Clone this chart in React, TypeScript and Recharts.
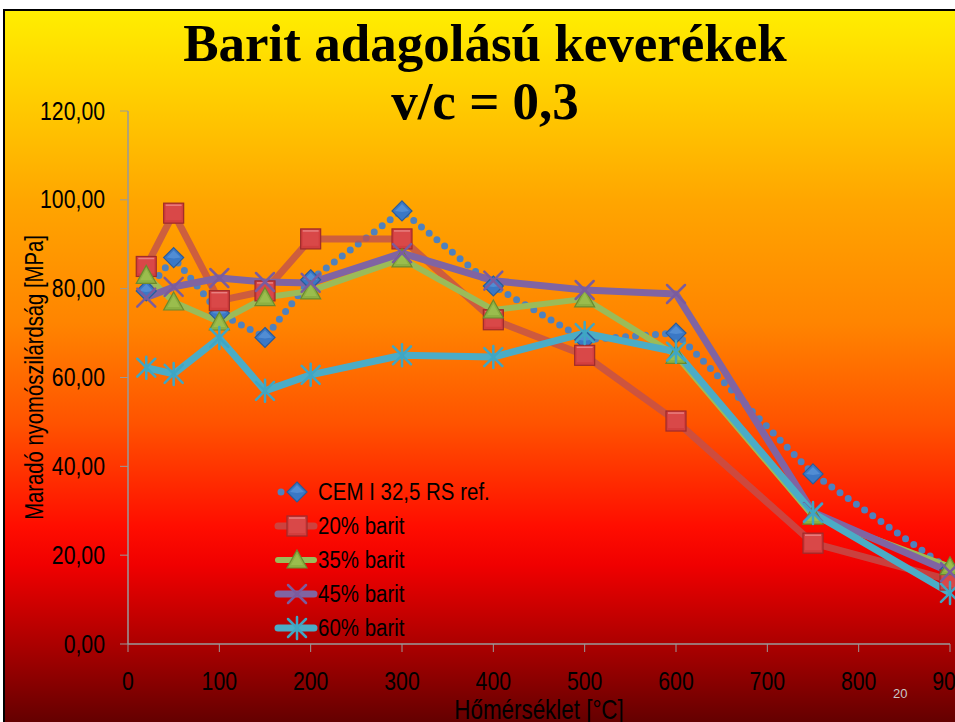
import React from 'react';
import { LineChart, Line, XAxis, YAxis, Label } from 'recharts';

const temps = [20, 50, 100, 150, 200, 300, 400, 500, 600, 750, 900];
const cemRef = [79.5, 87, 74.5, 69, 82, 97.5, 80.6, 68.5, 70, 38.3, 16.7];
const barit20 = [85, 97, 77.3, 79.5, 91.2, 91.2, 73, 65, 50.2, 22.7, 14.4];
const barit35 = [83, 77, 72.5, 78, 79.5, 86.7, 75.2, 77.7, 65, 28.8, 17.4];
const barit45 = [78, 80.4, 82.4, 81.5, 81.3, 88, 81.8, 79.7, 78.8, 29.7, 16.2];
const barit60 = [62.2, 60.8, 68.9, 57, 60.6, 65, 64.6, 70, 65.8, 29.5, 11.5];

const xTicks = [0, 100, 200, 300, 400, 500, 600, 700, 800, 900];
const yTicks = [0, 20, 40, 60, 80, 100, 120];

const seriesNames = ['CEM I 32,5 RS ref.', '20% barit', '35% barit', '45% barit', '60% barit'];
const titleLines = ['Barit adagolású keverékek', 'v/c = 0,3'];
const xTitle = 'Hőmérséklet [°C]';
const yTitle = 'Maradó nyomószilárdság [MPa]';

const data = temps.map((t, i) => ({
  t,
  cem: cemRef[i],
  b20: barit20[i],
  b35: barit35[i],
  b45: barit45[i],
  b60: barit60[i],
}));

const FONT = '"Liberation Sans", Arial, sans-serif';
const SQ = 0.85;

type Kind = 'diamond' | 'square' | 'triangle' | 'xmark' | 'star';

const series: { key: string; name: string; color: string; kind: Kind; width: number; opacity: number; dotted?: boolean }[] = [
  { key: 'cem', name: seriesNames[0], color: '#4F81BD', kind: 'diamond', width: 7, opacity: 1, dotted: true },
  { key: 'b20', name: seriesNames[1], color: '#C0504D', kind: 'square', width: 7, opacity: 0.8 },
  { key: 'b35', name: seriesNames[2], color: '#9BBB59', kind: 'triangle', width: 6, opacity: 1 },
  { key: 'b45', name: seriesNames[3], color: '#8064A2', kind: 'xmark', width: 7, opacity: 1 },
  { key: 'b60', name: seriesNames[4], color: '#4BACC6', kind: 'star', width: 7, opacity: 1 },
];

function Marker({ kind, cx, cy }: { kind: Kind; cx: number; cy: number }) {
  if (cx == null || cy == null || isNaN(cx) || isNaN(cy)) return <g />;
  const s = 10;
  switch (kind) {
    case 'diamond':
      return (
        <g>
          <polygon points={`${cx},${cy - s} ${cx + s},${cy} ${cx},${cy + s} ${cx - s},${cy}`} fill="#3A78C6" stroke="#2B5C99" strokeWidth={1.2} />
          <polygon points={`${cx},${cy - s + 3} ${cx + s - 3},${cy} ${cx},${cy + 1} ${cx - s + 3},${cy}`} fill="#5B95DA" opacity={0.7} />
        </g>
      );
    case 'square':
      return (
        <g>
          <rect x={cx - s} y={cy - s} width={2 * s} height={2 * s} fill="#D23E3E" stroke="#9E2B2B" strokeWidth={1.2} />
          <rect x={cx - s + 2} y={cy - s + 2} width={2 * s - 4} height={2 * s - 5} fill="#D94848" />
          <line x1={cx - s + 2} y1={cy - s + 2} x2={cx + s - 2} y2={cy - s + 2} stroke="#E98080" strokeWidth={1.5} />
        </g>
      );
    case 'triangle':
      return (
        <g>
          <polygon points={`${cx},${cy - s} ${cx + s},${cy + 8} ${cx - s},${cy + 8}`} fill="#8DB042" stroke="#6B8A2E" strokeWidth={1.2} />
          <polygon points={`${cx},${cy - s + 4} ${cx + s - 4},${cy + 5} ${cx - s + 4},${cy + 5}`} fill="#9DC050" opacity={0.8} />
        </g>
      );
    case 'xmark':
      return (
        <g stroke="#7A5C9E" strokeWidth={2.5} strokeLinecap="round">
          <line x1={cx - 9} y1={cy - 9} x2={cx + 9} y2={cy + 9} />
          <line x1={cx - 9} y1={cy + 9} x2={cx + 9} y2={cy - 9} />
        </g>
      );
    case 'star':
    default:
      return (
        <g stroke="#3FA6C4" strokeWidth={2.5} strokeLinecap="round">
          <line x1={cx - 9} y1={cy - 9} x2={cx + 9} y2={cy + 9} />
          <line x1={cx - 9} y1={cy + 9} x2={cx + 9} y2={cy - 9} />
          <line x1={cx} y1={cy - 11} x2={cx} y2={cy + 11} />
        </g>
      );
  }
}

function YTick(props: any) {
  const { x, y, payload, tickFormatter } = props;
  const label = tickFormatter ? tickFormatter(payload.value, payload.index) : String(payload.value);
  return (
    <text transform={`translate(${x},${y}) scale(${SQ},1)`} textAnchor="end" dominantBaseline="central" fontFamily={FONT} fontSize={25} fill="#000">
      {label}
    </text>
  );
}

function XTick(props: any) {
  const { x, y, payload } = props;
  return (
    <text transform={`translate(${x},${y}) scale(${SQ},1)`} textAnchor="middle" dy="0.71em" fontFamily={FONT} fontSize={25} fill="#000">
      {String(payload.value)}
    </text>
  );
}

function LegendBox() {
  return (
    <div style={{ position: 'absolute', left: 272, top: 475, fontFamily: FONT, fontSize: 23, color: '#000', lineHeight: '34px' }}>
      {series.map((s) => (
        <div key={s.key} style={{ display: 'flex', alignItems: 'center', height: 34 }}>
          <svg width={46} height={34} style={{ display: 'block', flex: 'none' }}>
            {s.dotted ? (
              <circle cx={9} cy={17} r={3.5} fill={s.color} />
            ) : (
              <line x1={6} y1={17} x2={42} y2={17} stroke={s.color} strokeWidth={s.width} strokeOpacity={s.opacity} strokeLinecap="round" />
            )}
            <Marker kind={s.kind} cx={25} cy={17} />
          </svg>
          <span style={{ whiteSpace: 'nowrap', display: 'inline-block', transform: 'scaleX(0.89)', transformOrigin: 'left center' }}>{s.name}</span>
        </div>
      ))}
    </div>
  );
}

export default function App() {
  return (
    <div style={{ position: 'fixed', left: 0, top: 0, width: 955, height: 722, overflow: 'hidden', background: '#fff' }}>
      <div
        style={{
          position: 'absolute',
          left: 3,
          top: 9,
          width: 960,
          height: 720,
          borderLeft: '2px solid #000',
          borderTop: '2px solid #000',
          background:
            'linear-gradient(to bottom, #FFEE00 0%, #FFCC00 12.5%, #FFA500 26.6%, #FF8400 43.5%, #FF5200 57.5%, #FF0D00 71.6%, #F00000 77%, #A80000 88.5%, #5C0000 100%)',
        }}
      />
      <div
        style={{
          position: 'absolute',
          left: 0,
          width: 970,
          top: 14,
          textAlign: 'center',
          fontFamily: '"Liberation Serif", "Times New Roman", serif',
          fontWeight: 'bold',
          fontSize: 53,
          lineHeight: '58px',
          color: '#000',
        }}
      >
        <div>{titleLines[0]}</div>
        <div>{titleLines[1]}</div>
      </div>
      <div style={{ position: 'absolute', left: 0, top: 0 }}>
        <LineChart width={955} height={722} data={data} margin={{ top: 111, right: 5, bottom: 0, left: 0 }}>
          <XAxis
            dataKey="t"
            type="number"
            domain={[0, 900]}
            ticks={xTicks}
            interval={0}
            height={78}
            tickSize={8}
            tickMargin={20}
            tick={<XTick />}
            axisLine={{ stroke: '#9A9A9A', strokeWidth: 1.5 }}
            tickLine={{ stroke: '#9A9A9A' }}
          >
            <Label
              content={(p: any) => {
                const vb = p.viewBox || { x: 128, y: 644, width: 822, height: 78 };
                const x = vb.x + vb.width / 2;
                const y = vb.y + 75;
                return (
                  <text transform={`translate(${x},${y}) scale(0.83,1)`} textAnchor="middle" fontFamily={FONT} fontSize={27} fill="#000">
                    {xTitle}
                  </text>
                );
              }}
            />
          </XAxis>
          <YAxis
            type="number"
            domain={[0, 120]}
            ticks={yTicks}
            interval={0}
            width={128}
            tickSize={8}
            tickMargin={15}
            tickFormatter={(v: number) => v.toFixed(2).replace('.', ',')}
            tick={<YTick />}
            axisLine={{ stroke: '#9A9A9A', strokeWidth: 1.5 }}
            tickLine={{ stroke: '#9A9A9A' }}
          >
            <Label
              content={(p: any) => {
                const vb = p.viewBox || { x: 0, y: 111, width: 128, height: 533 };
                const x = vb.x + 34;
                const y = vb.y + vb.height / 2;
                return (
                  <text transform={`translate(${x},${y}) rotate(-90) scale(0.81,1)`} textAnchor="middle" dominantBaseline="central" fontFamily={FONT} fontSize={25} fill="#000">
                    {yTitle}
                  </text>
                );
              }}
            />
          </YAxis>
          {series.map((s) => (
            <Line
              key={s.key}
              dataKey={s.key}
              name={s.name}
              type="linear"
              stroke={s.color}
              strokeWidth={s.width}
              strokeOpacity={s.opacity}
              strokeDasharray={s.dotted ? '0 10' : undefined}
              strokeLinecap={s.dotted ? 'round' : 'butt'}
              strokeLinejoin="round"
              isAnimationActive={false}
              activeDot={false}
              dot={(p: any) => <Marker key={`${s.key}-${p.index}`} kind={s.kind} cx={p.cx} cy={p.cy} />}
            />
          ))}
        </LineChart>
      </div>
      <LegendBox />
      <div style={{ position: 'absolute', left: 893, top: 686, fontFamily: FONT, fontSize: 13, color: '#C8C8C8' }}>20</div>
    </div>
  );
}
